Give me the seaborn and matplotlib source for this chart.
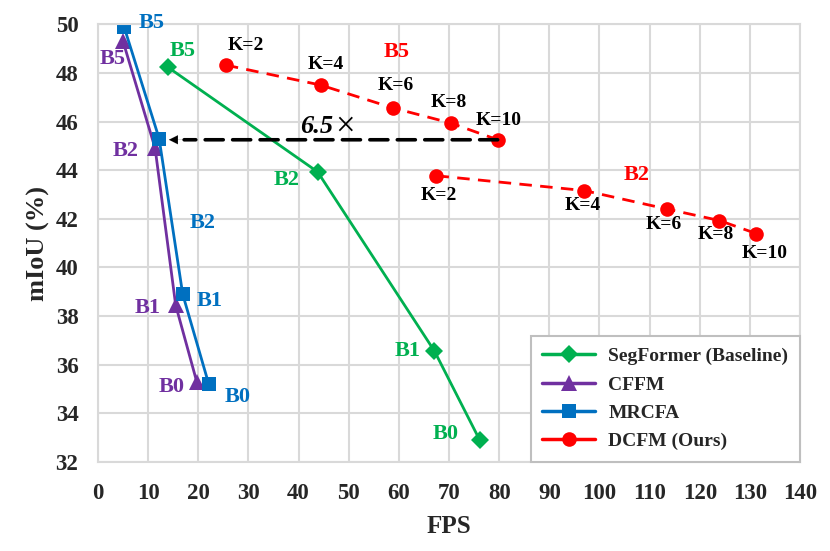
import matplotlib
matplotlib.use("Agg")
import matplotlib.pyplot as plt
import seaborn as sns
from matplotlib.lines import Line2D

# ---------------- data ----------------
sizes = ["B5", "B2", "B1", "B0"]
segformer_fps = [13.9, 43.8, 67.1, 76.1]
segformer_miou = [48.24, 43.93, 36.56, 32.91]
cffm_fps = [5.0, 11.4, 15.5, 19.7]
cffm_miou = [49.3, 44.9, 38.45, 35.3]
mrcfa_fps = [5.2, 12.2, 16.9, 22.1]
mrcfa_miou = [49.9, 45.3, 38.9, 35.2]
k_labels = ["K=2", "K=4", "K=6", "K=8", "K=10"]
dcfm_b5_fps = [25.5, 44.4, 58.8, 70.3, 79.7]
dcfm_b5_miou = [48.32, 47.5, 46.56, 45.94, 45.25]
dcfm_b2_fps = [67.5, 97.0, 113.5, 123.9, 131.3]
dcfm_b2_miou = [43.77, 43.16, 42.4, 41.93, 41.39]
speedup = "6.5"
times_sign = "×"
series_names = ["SegFormer (Baseline)", "CFFM", "MRCFA", "DCFM (Ours)"]
x_ticks = list(range(0, 141, 10))
y_ticks = list(range(32, 51, 2))

GREEN, PURPLE, BLUE, RED = "#00B050", "#7030A0", "#0070C0", "#FF0000"
GRID = "#D9D9D9"

sns.set_style("white")
plt.rcParams["font.family"] = ["Liberation Serif", "DejaVu Serif"]
plt.rcParams["font.weight"] = "bold"

fig = plt.figure(figsize=(8.3, 5.51), dpi=100)
ax = fig.add_axes([0.118, 0.1615, 0.846, 0.7945])

# lines
sns.lineplot(x=segformer_fps, y=segformer_miou, ax=ax, sort=False, estimator=None,
             color=GREEN, lw=2, marker="D", markersize=9, markeredgewidth=0)
sns.lineplot(x=cffm_fps, y=cffm_miou, ax=ax, sort=False, estimator=None,
             color=PURPLE, lw=2, marker="^", markersize=11, markeredgewidth=0)
sns.lineplot(x=mrcfa_fps, y=mrcfa_miou, ax=ax, sort=False, estimator=None,
             color=BLUE, lw=2, marker="s", markersize=10, markeredgewidth=0)
for fx, fy in [(dcfm_b5_fps, dcfm_b5_miou), (dcfm_b2_fps, dcfm_b2_miou)]:
    sns.lineplot(x=fx, y=fy, ax=ax, sort=False, estimator=None,
                 color=RED, lw=2, marker="o", markersize=10.5, markeredgewidth=0,
                 dashes=False, linestyle=(0, (4.5, 3)))

# speed-up arrow
ax.annotate("", xy=(mrcfa_fps[1], dcfm_b5_miou[-1]), xytext=(dcfm_b5_fps[-1], dcfm_b5_miou[-1]),
            arrowprops=dict(arrowstyle="-", color="black", lw=2.6, linestyle=(0, (5, 2.6)),
                            shrinkA=0, shrinkB=18))
ax.annotate("", xy=(mrcfa_fps[1], dcfm_b5_miou[-1]), xytext=(28, 0), textcoords="offset pixels",
            arrowprops=dict(arrowstyle="-|>", color="black", lw=0.1, mutation_scale=16,
                            shrinkA=0, shrinkB=7))
ax.annotate(speedup, xy=(dcfm_b5_fps[1], dcfm_b5_miou[-1]), xytext=(-4, 13),
            textcoords="offset pixels", fontsize=19, style="italic", fontweight="bold",
            ha="center", va="center", color="black")
ax.annotate(times_sign, xy=(dcfm_b5_fps[1], dcfm_b5_miou[-1]), xytext=(24, 13),
            textcoords="offset pixels", fontsize=25, fontweight="normal",
            ha="center", va="center", color="black")

def label(xs, ys, texts, offsets, color, size=16):
    for x, y, t, (dx, dy) in zip(xs, ys, texts, offsets):
        ax.annotate(t, xy=(x, y), xytext=(dx, dy), textcoords="offset pixels",
                    ha="center", va="center", color=color, fontsize=size, fontweight="bold")

label(segformer_fps, segformer_miou, sizes, [(15, 16), (-31, -8), (-27, 0), (-34, 6)], GREEN)
label(cffm_fps, cffm_miou, sizes, [(-10, -18), (-29, -3), (-28, -3), (-25, -5)], PURPLE)
label(mrcfa_fps, mrcfa_miou, sizes, [(28, 4), (43, -84), (27, -7), (29, -13)], BLUE)
label(dcfm_b5_fps, dcfm_b5_miou, k_labels, [(20, 20), (5, 21), (3, 22), (-2, 20), (1, 19)], "black", 14)
label(dcfm_b2_fps, dcfm_b2_miou, k_labels, [(2, -20), (-2, -15), (-3, -15), (-4, -14), (8, -20)], "black", 14)
ax.text(59.6, 48.85, sizes[0], color=RED, fontsize=16, fontweight="bold", ha="center", va="center")
ax.text(107.5, 43.8, sizes[1], color=RED, fontsize=16, fontweight="bold", ha="center", va="center")

# axes
ax.set_xlim(0, 140)
ax.set_ylim(32, 50)
ax.set_xticks(x_ticks)
ax.set_yticks(y_ticks)
ax.grid(True, color=GRID, lw=1.5)
ax.set_axisbelow(True)
for s in ax.spines.values():
    s.set_color(GRID)
    s.set_linewidth(1.5)
ax.tick_params(axis="both", length=0, labelsize=16.5)
ax.tick_params(axis="x", pad=15)
ax.tick_params(axis="y", pad=14)
for lab in ax.get_xticklabels() + ax.get_yticklabels():
    lab.set_fontweight("bold")
ax.set_xlabel("FPS", fontsize=18, fontweight="bold", labelpad=8)
ax.set_ylabel("mIoU (%)", fontsize=19, fontweight="bold", labelpad=4)

handles = [
    Line2D([], [], color=GREEN, lw=2.5, marker="D", markersize=9, markeredgewidth=0),
    Line2D([], [], color=PURPLE, lw=2.5, marker="^", markersize=11, markeredgewidth=0),
    Line2D([], [], color=BLUE, lw=2.5, marker="s", markersize=10, markeredgewidth=0),
    Line2D([], [], color=RED, lw=2.5, marker="o", markersize=10.5, markeredgewidth=0),
]
leg = ax.legend(handles, series_names, loc="lower right", bbox_to_anchor=(1, 0),
                borderaxespad=0, fancybox=False, frameon=True, framealpha=1,
                edgecolor="#BFBFBF", prop={"weight": "bold", "size": 14},
                handlelength=2.7, labelspacing=0.55, borderpad=0.6, handletextpad=0.7)
leg.get_frame().set_linewidth(1.5)

fig.savefig("out.png", dpi=100)
